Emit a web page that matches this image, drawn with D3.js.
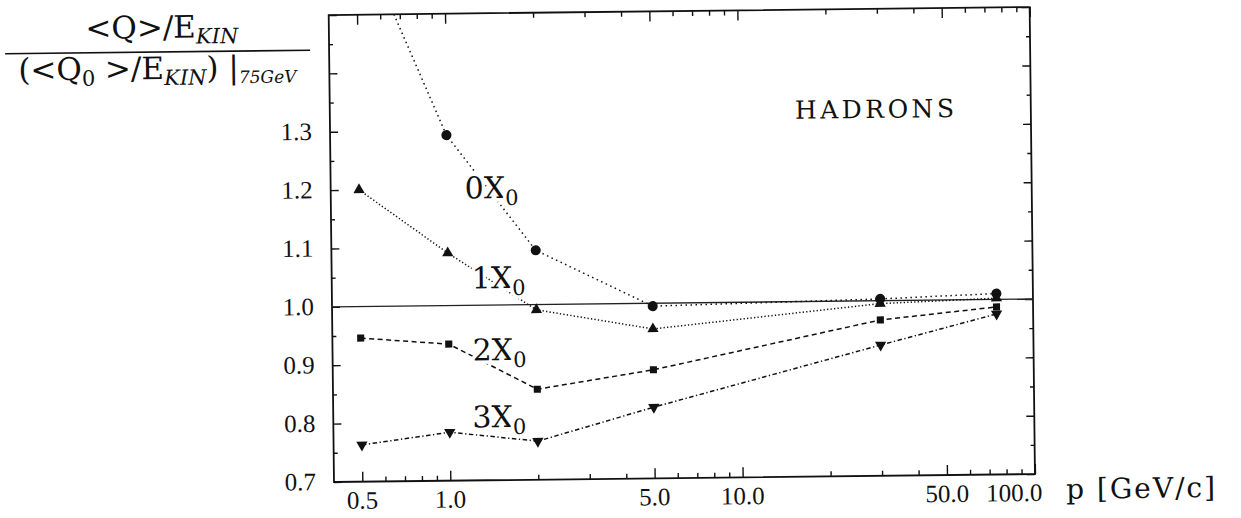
<!DOCTYPE html>
<html>
<head>
<meta charset="utf-8">
<script src="https://cdn.jsdelivr.net/npm/d3@7"></script>
<style>
  body { margin: 0; background: #fff; }
  svg text { font-family: "DejaVu Serif", "Liberation Serif", serif; fill: #111; }
  svg text.tick-label { font-family: "Liberation Serif", "DejaVu Serif", serif; }
</style>
</head>
<body>
<div id="chart"></div>
<script>
// momentum points (GeV/c) and normalised response for each absorber thickness
const momenta = [0.5, 1, 2, 5, 30, 75];
const q0X0 = [1.65, 1.292, 1.093, 0.995, 1.003, 1.010];
const q1X0 = [1.200, 1.090, 0.991, 0.956, 0.995, 1.002];
const q2X0 = [0.946, 0.934, 0.855, 0.886, 0.967, 0.987];
const q3X0 = [0.763, 0.783, 0.766, 0.822, 0.924, 0.975];

const seriesNames = ['0X', '1X', '2X', '3X'];
const xTickValues = [0.5, 1, 5, 10, 50, 100];
const xTickLabels = ['0.5', '1.0', '5.0', '10.0', '50.0', '100.0'];
const yTickValues = [0.7, 0.8, 0.9, 1.0, 1.1, 1.2, 1.3];
const yTickLabels = ['0.7', '0.8', '0.9', '1.0', '1.1', '1.2', '1.3'];

const width = 1241;
const height = 518;
const plotLeft = 334, plotRight = 1035, plotTop = 15, plotBottom = 482;

const svg = d3.select('#chart')
  .append('svg')
  .attr('width', width)
  .attr('height', height);

svg.append('rect').attr('width', width).attr('height', height).attr('fill', '#fff');

// the scan is tilted a little, so the whole figure is turned with it
const g = svg.append('g')
  .attr('transform', `rotate(-0.65, ${plotLeft}, ${plotBottom})`);

const x = d3.scaleLog().domain([0.4, 100]).range([plotLeft, plotRight]);
const y = d3.scaleLinear().domain([0.7, 1.5]).range([plotBottom, plotTop]);

g.append('clipPath').attr('id', 'plot-clip')
  .append('rect')
  .attr('x', plotLeft).attr('y', plotTop)
  .attr('width', plotRight - plotLeft).attr('height', plotBottom - plotTop);

// minor ticks: every 1..9 times a power of ten
const xMinor = [];
[0.1, 1, 10].forEach(p => {
  for (let k = 1; k <= 9; k++) {
    const v = +(k * p).toFixed(2);
    if (v >= 0.5 && v <= 100 && !xTickValues.includes(v)) xMinor.push(v);
  }
});
const yMinor = d3.range(0.75, 1.5, 0.1).map(v => +v.toFixed(2));
const yMajorAll = d3.range(0.7, 1.51, 0.1).map(v => +v.toFixed(2));

function tickAxes(axisFn, scale, values, size, pos) {
  const a = g.append('g')
    .attr('transform', pos)
    .call(axisFn(scale).tickValues(values).tickSize(size).tickFormat(''));
  a.select('.domain').remove();
  a.selectAll('line').attr('stroke', '#111').attr('stroke-width', 1.4);
}

tickAxes(d3.axisBottom, x, xTickValues, -10, `translate(0,${plotBottom})`);
tickAxes(d3.axisBottom, x, xMinor, -5, `translate(0,${plotBottom})`);
tickAxes(d3.axisTop, x, xTickValues, -10, `translate(0,${plotTop})`);
tickAxes(d3.axisTop, x, xMinor, -5, `translate(0,${plotTop})`);
tickAxes(d3.axisLeft, y, yMajorAll, -8, `translate(${plotLeft},0)`);
tickAxes(d3.axisLeft, y, yMinor, -4, `translate(${plotLeft},0)`);
tickAxes(d3.axisRight, y, yMajorAll, -8, `translate(${plotRight},0)`);
tickAxes(d3.axisRight, y, yMinor, -4, `translate(${plotRight},0)`);

// frame
g.append('rect')
  .attr('x', plotLeft).attr('y', plotTop)
  .attr('width', plotRight - plotLeft).attr('height', plotBottom - plotTop)
  .attr('fill', 'none').attr('stroke', '#111').attr('stroke-width', 1.8);

// tick labels
g.selectAll('.xlab')
  .data(xTickValues)
  .enter()
  .append('text')
  .attr('class', 'xlab tick-label')
  .attr('x', (d, i) => x(d) - (i === xTickValues.length - 1 ? 21 : 0))
  .attr('y', 509)
  .attr('text-anchor', 'middle')
  .style('font-size', '25px')
  .text((d, i) => xTickLabels[i]);

g.selectAll('.ylab')
  .data(yTickValues)
  .enter()
  .append('text')
  .attr('class', 'ylab tick-label')
  .attr('x', 316)
  .attr('y', d => y(d) + 8)
  .attr('text-anchor', 'end')
  .style('font-size', '25px')
  .text((d, i) => yTickLabels[i]);

g.append('text')
  .attr('x', 1066).attr('y', 507)
  .style('font-size', '28px')
  .style('letter-spacing', '2px')
  .text('p  [GeV/c]');

// reference line at 1.0
g.append('line')
  .attr('x1', plotLeft).attr('x2', plotRight)
  .attr('y1', y(1)).attr('y2', y(1))
  .attr('stroke', '#222').attr('stroke-width', 1.4);

const plot = g.append('g').attr('clip-path', 'url(#plot-clip)');

const series = [q0X0, q1X0, q2X0, q3X0];
const dashes = ['1.5,3.5', '1.3,2.2', '5,3.5', '4.5,2.5,1.3,2.5'];
const symbols = [d3.symbolCircle, d3.symbolTriangle, d3.symbolSquare, d3.symbolTriangle];
const symSize = [80, 55, 50, 55];

const line = d3.line()
  .x((d, i) => x(momenta[i]))
  .y(d => y(d));

series.forEach((vals, s) => {
  plot.append('path')
    .attr('d', line(vals))
    .attr('fill', 'none')
    .attr('stroke', '#111')
    .attr('stroke-width', 1.5)
    .attr('stroke-dasharray', dashes[s]);
});

// series labels, with a white halo that breaks the lines like the original
const labelPos = [[468, 200], [474, 290], [474, 362], [473, 429]];
seriesNames.forEach((name, s) => {
  const t = g.append('text')
    .attr('x', labelPos[s][0]).attr('y', labelPos[s][1])
    .style('font-size', '30px')
    .attr('stroke', '#fff').attr('stroke-width', 7)
    .attr('paint-order', 'stroke');
  t.append('tspan').text(name);
  t.append('tspan').attr('dy', 7).style('font-size', '21px').text('0');
});

series.forEach((vals, s) => {
  plot.selectAll(null)
    .data(vals)
    .enter()
    .append('path')
    .attr('transform', (d, i) => `translate(${x(momenta[i])},${y(d)})${s === 3 ? ' rotate(180)' : ''}`)
    .attr('d', d3.symbol().type(symbols[s]).size(symSize[s]))
    .attr('fill', '#111');
});

// HADRONS tag
g.append('text')
  .attr('x', 799).attr('y', 124)
  .style('font-size', '25px')
  .style('letter-spacing', '3.5px')
  .text('HADRONS');

// y-axis title as a fraction
const num = g.append('text')
  .attr('x', 167).attr('y', 36)
  .attr('text-anchor', 'middle')
  .style('font-size', '31px');
num.append('tspan').text('<Q>/E');
num.append('tspan').attr('dy', 6).style('font-size', '21px').style('font-style', 'italic').text('KIN');

g.append('line')
  .attr('x1', 10).attr('x2', 315)
  .attr('y1', 50).attr('y2', 50)
  .attr('stroke', '#111').attr('stroke-width', 1.6);

const den = g.append('text')
  .attr('x', 162).attr('y', 77)
  .attr('text-anchor', 'middle')
  .style('font-size', '31px');
den.append('tspan').text('(<Q');
den.append('tspan').attr('dy', 6).style('font-size', '21px').text('0');
den.append('tspan').attr('dy', -6).text(' >/E');
den.append('tspan').attr('dy', 6).style('font-size', '21px').style('font-style', 'italic').text('KIN');
den.append('tspan').attr('dy', -6).text(') |');
den.append('tspan').attr('dy', 5).style('font-size', '17px').style('font-style', 'italic').text('75GeV');
</script>
</body>
</html>
